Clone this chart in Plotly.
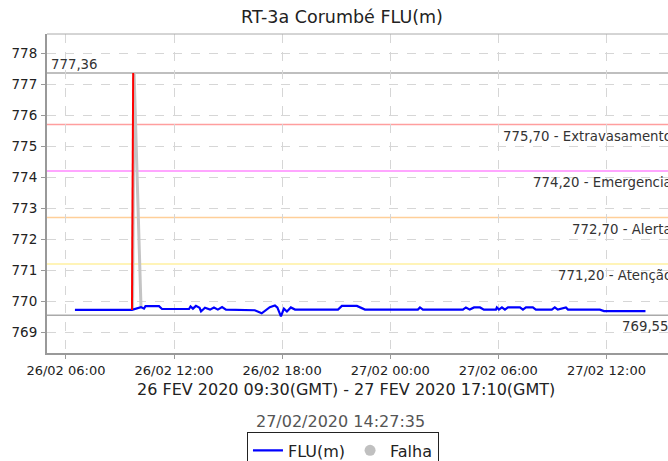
import plotly.graph_objects as go

# FLU(m) readings (local time)
flu_time = [
    "2020-02-26 06:30", "2020-02-26 09:40",
    "2020-02-26 10:10", "2020-02-26 10:20", "2020-02-26 10:25", "2020-02-26 11:10",
    "2020-02-26 11:20", "2020-02-26 12:50", "2020-02-26 12:55", "2020-02-26 13:03",
    "2020-02-26 13:13", "2020-02-26 13:25", "2020-02-26 13:30", "2020-02-26 13:43",
    "2020-02-26 14:00", "2020-02-26 14:13", "2020-02-26 14:26", "2020-02-26 14:40",
    "2020-02-26 14:53", "2020-02-26 16:29", "2020-02-26 16:52", "2020-02-26 17:19",
    "2020-02-26 17:36", "2020-02-26 17:44", "2020-02-26 17:56", "2020-02-26 18:06",
    "2020-02-26 18:16", "2020-02-26 18:29", "2020-02-26 18:43", "2020-02-26 21:06",
    "2020-02-26 21:19", "2020-02-26 22:09", "2020-02-26 22:36", "2020-02-27 01:32",
    "2020-02-27 01:39", "2020-02-27 01:49", "2020-02-27 04:02", "2020-02-27 04:12",
    "2020-02-27 04:25", "2020-02-27 04:39", "2020-02-27 04:59", "2020-02-27 05:12",
    "2020-02-27 05:52", "2020-02-27 05:55", "2020-02-27 06:02", "2020-02-27 06:12",
    "2020-02-27 06:22", "2020-02-27 06:32", "2020-02-27 07:12", "2020-02-27 07:22",
    "2020-02-27 07:32", "2020-02-27 07:55", "2020-02-27 08:05", "2020-02-27 08:58",
    "2020-02-27 09:08", "2020-02-27 09:18", "2020-02-27 09:45", "2020-02-27 09:52",
    "2020-02-27 11:38", "2020-02-27 11:52", "2020-02-27 14:10",
]
flu_value = [
    769.72, 769.72,
    769.81, 769.76, 769.84, 769.84,
    769.75, 769.75, 769.83, 769.76,
    769.85, 769.79, 769.67, 769.79,
    769.73, 769.80, 769.73, 769.81,
    769.73, 769.71, 769.61, 769.81,
    769.86, 769.80, 769.51, 769.76,
    769.67, 769.80, 769.73, 769.73,
    769.85, 769.85, 769.73, 769.73,
    769.80, 769.73, 769.73, 769.80,
    769.73, 769.80, 769.80, 769.73,
    769.73, 769.80, 769.73, 769.80,
    769.73, 769.80, 769.80, 769.73,
    769.80, 769.80, 769.73, 769.73,
    769.80, 769.73, 769.80, 769.73,
    769.73, 769.68, 769.68,
]

# spike (red) and failure (grey) segments
spike_time = ["2020-02-26 09:40", "2020-02-26 09:44"]
spike_value = [769.72, 777.36]
falha_time = ["2020-02-26 09:42", "2020-02-26 09:47", "2020-02-26 10:10"]
falha_value = [769.72, 777.36, 769.81]

# reference levels
max_level, min_level = 777.36, 769.55
threshold_values = [775.70, 774.20, 772.70, 771.20]
threshold_names = ["Extravasamento", "Emergencia", "Alerta", "Atenção"]
threshold_colors = ["#ff9e9e", "#ff88ff", "#ffcf99", "#fff0a0"]

fig = go.Figure()
fig.add_trace(go.Scatter(x=falha_time, y=falha_value, mode="lines",
                         line=dict(color="#c4c4c4", width=3), showlegend=False))
fig.add_trace(go.Scatter(x=flu_time, y=flu_value, mode="lines", name="FLU(m)",
                         line=dict(color="#0000ff", width=2.2)))
fig.add_trace(go.Scatter(x=spike_time, y=spike_value, mode="lines",
                         line=dict(color="#ff0000", width=2), showlegend=False))
fig.add_trace(go.Scatter(x=[None], y=[None], mode="markers", name="Falha",
                         marker=dict(color="#c0c0c0", size=11)))

for val, color in [(max_level, "#aaaaaa"), (min_level, "#aaaaaa")] + list(zip(threshold_values, threshold_colors)):
    fig.add_shape(type="line", xref="paper", x0=0, x1=1, yref="y", y0=val, y1=val,
                  line=dict(color=color, width=1.5), layer="below")

lab_font = dict(family="DejaVu Sans", size=13.3, color="#333333")
for val, name in zip(threshold_values, threshold_names):
    fig.add_annotation(xref="paper", x=1, y=val, xanchor="right", yanchor="top",
                       text=f"{val:.2f}".replace(".", ",") + " - " + name,
                       showarrow=False, font=lab_font, xshift=6, yshift=-2)
fig.add_annotation(xref="paper", x=0, y=max_level, xanchor="left", yanchor="bottom",
                   text=f"{max_level:.2f}".replace(".", ","), showarrow=False,
                   font=lab_font, xshift=2, yshift=-1)
fig.add_annotation(xref="paper", x=1, y=min_level, xanchor="right", yanchor="top",
                   text=f"{min_level:.2f}".replace(".", ","), showarrow=False,
                   font=lab_font, xshift=3, yshift=-2)

fig.add_annotation(xref="paper", yref="paper", x=0.481, y=-0.115, xanchor="center",
                   yanchor="middle", showarrow=False,
                   text="26 FEV 2020 09:30(GMT) - 27 FEV 2020 17:10(GMT)",
                   font=dict(family="DejaVu Sans", size=16, color="#222222"))
fig.add_annotation(xref="paper", yref="paper", x=0.473, y=-0.215, xanchor="center",
                   yanchor="middle", showarrow=False, text="27/02/2020 14:27:35",
                   font=dict(family="DejaVu Sans", size=16, color="#555555"))

fig.update_layout(
    width=668, height=461,
    margin=dict(l=47, r=0, t=34, b=108, autoexpand=False),
    paper_bgcolor="white", plot_bgcolor="white",
    title=dict(text="RT-3a Corumbé FLU(m)", xref="paper", x=0.475, xanchor="center",
               y=0.963, yanchor="middle",
               font=dict(family="DejaVu Sans", size=17.5, color="#222222")),
    font=dict(family="DejaVu Sans", color="#222222"),
    legend=dict(orientation="h", x=0.322, y=-0.249, xanchor="left", yanchor="top",
                bordercolor="#222222", borderwidth=1, bgcolor="white",
                font=dict(family="DejaVu Sans", size=16, color="#222222"),
                itemwidth=30, tracegroupgap=0),
    xaxis=dict(range=["2020-02-26 04:57", "2020-02-27 15:25"], type="date",
               tick0="2020-02-26 06:00", dtick=6 * 3600 * 1000, tickformat="%d/%m %H:%M",
               showgrid=True, gridcolor="#d6d6d6", griddash="dash", gridwidth=1,
               showline=True, linecolor="#999999", linewidth=2, ticks="outside",
               ticklen=4, tickcolor="#999999", tickfont=dict(size=13),
               zeroline=False, mirror=False),
    yaxis=dict(range=[768.33, 778.62], dtick=1, tick0=769,
               showgrid=True, gridcolor="#d6d6d6", griddash="dash", gridwidth=1,
               showline=True, linecolor="#999999", linewidth=2, ticks="outside",
               ticklen=4, tickcolor="#999999", tickfont=dict(size=13.5),
               ticklabelstandoff=1, zeroline=False),
)
fig.add_shape(type="line", xref="paper", yref="paper", x0=0, x1=1, y0=1, y1=1,
              line=dict(color="#aaaaaa", width=1))

fig.write_html("out.html", config={"displayModeBar": False},
               post_script="document.body.style.margin='0';document.body.style.overflow='hidden';")
